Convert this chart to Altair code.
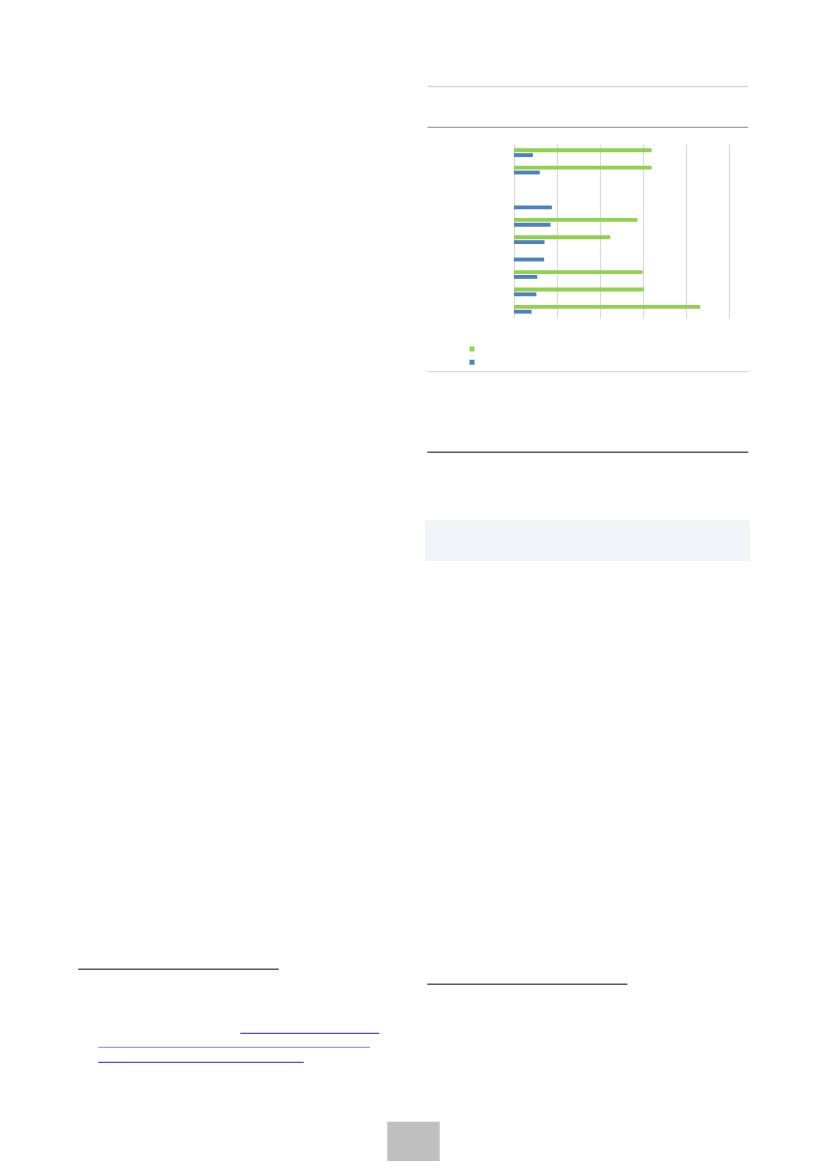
import altair as alt
import pandas as pd

categories = ["C1", "C2", "C3", "C4", "C5", "C6", "C7", "C8", "C9", "C10"]
series_names = ["Series A", "Series B"]
series_a = [32.0, 32.0, None, None, 28.7, 22.4, None, 29.9, 30.2, 43.3]
series_b = [4.4, 6.0, None, 8.8, 8.5, 7.1, 7.0, 5.4, 5.2, 4.1]
tick_values = [0, 10, 20, 30, 40, 50]

rows = []
for c, a, b in zip(categories, series_a, series_b):
    rows.append({"category": c, "series": series_names[0], "value": a})
    rows.append({"category": c, "series": series_names[1], "value": b})
df = pd.DataFrame(rows)

bars = alt.Chart(df).mark_bar().encode(
    y=alt.Y("category:N", sort=categories,
            scale=alt.Scale(paddingInner=0.5, paddingOuter=0.25),
            axis=None),
    yOffset=alt.YOffset("series:N", sort=series_names,
                        scale=alt.Scale(paddingInner=0.2, paddingOuter=0)),
    x=alt.X("value:Q", scale=alt.Scale(domain=[0, 50], nice=False),
            axis=alt.Axis(values=tick_values, labels=False, ticks=False,
                          domain=False, grid=True, gridColor="#D9D9D9",
                          gridWidth=1.2, title=None)),
    color=alt.Color("series:N", sort=series_names,
                    scale=alt.Scale(domain=series_names, range=["#92D050", "#4F81BD"]),
                    legend=alt.Legend(orient="none", legendX=-46, legendY=201,
                                      title=None, symbolType="square",
                                      symbolSize=25, symbolStrokeWidth=0,
                                      labelExpr="''", labelFontSize=8,
                                      rowPadding=5.2, padding=0)),
)

def hline(x1, x2, y, color, width=1.3):
    return alt.Chart(alt.Data(values=[{}])).mark_rule(
        color=color, strokeWidth=width).encode(
        x=alt.value(x1), x2=alt.value(x2), y=alt.value(y))

def box(x1, x2, y1, y2, color):
    return alt.Chart(alt.Data(values=[{}])).mark_rect(color=color).encode(
        x=alt.value(x1), x2=alt.value(x2), y=alt.value(y1), y2=alt.value(y2))

decor = [
    box(-89, 236, 376.3, 417, "#F0F4F9"),
    box(-126.7, -74.3, 977.7, 1025, "#BFBFBF"),
    hline(-86.7, 234.3, -57.5, "#D9D9D9"),
    hline(-86.7, 234.3, -16.7, "#A5A5A5"),
    hline(-86.7, 234.3, 227.7, "#D9D9D9"),
    hline(-86.7, 234.3, 308.3, "#595959", 1.5),
    hline(-435.7, -235.3, 825.3, "#595959", 1.5),
    hline(-273.7, -134.7, 889.3, "#4A4AF0", 1.2),
    hline(-415.7, -144, 903.3, "#9C9CFF", 1.2),
    hline(-415.7, -210.3, 918.3, "#4A4AF0", 1.2),
    hline(-86.7, 113.3, 840.3, "#595959", 1.5),
]

chart = alt.layer(*decor, bars).properties(
    width=215, height=174,
    padding={"left": 506, "top": 136, "right": 90, "bottom": 843},
    autosize=alt.AutoSizeParams(type="none"),
).configure_view(stroke=None)

chart.save("out.html", embed_options={"renderer": "svg", "actions": False})
